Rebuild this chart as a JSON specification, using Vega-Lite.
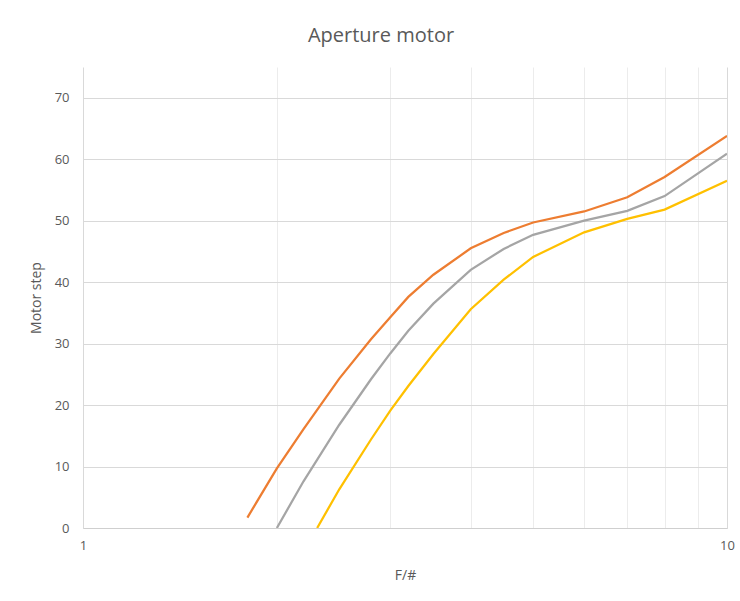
{
  "$schema": "https://vega.github.io/schema/vega-lite/v6.json",
  "width": 644,
  "height": 461,
  "autosize": {"type": "none"},
  "padding": {"left": 83, "top": 67, "right": 13, "bottom": 73},
  "background": "#ffffff",
  "title": {
    "text": "Aperture motor",
    "fontSize": 20,
    "font": "Open Sans",
    "fontWeight": "normal",
    "color": "#595959",
    "anchor": "middle",
    "dx": -24,
    "offset": 21
  },
  "config": {
    "view": {"stroke": null},
    "axis": {
      "labelFont": "Open Sans",
      "titleFont": "Open Sans",
      "labelColor": "#595959",
      "titleColor": "#595959",
      "labelFontSize": 13,
      "titleFontSize": 14,
      "titleFontWeight": "normal",
      "ticks": false
    }
  },
  "data": {
    "values": [
      {"s": "A", "f": 1.8, "step": 1.7},
      {"s": "A", "f": 2.0, "step": 9.7},
      {"s": "A", "f": 2.2, "step": 16.1},
      {"s": "A", "f": 2.5, "step": 24.3},
      {"s": "A", "f": 2.8, "step": 30.7},
      {"s": "A", "f": 3.0, "step": 34.3},
      {"s": "A", "f": 3.2, "step": 37.6},
      {"s": "A", "f": 3.5, "step": 41.2},
      {"s": "A", "f": 4.0, "step": 45.5},
      {"s": "A", "f": 4.5, "step": 48.0},
      {"s": "A", "f": 5.0, "step": 49.7},
      {"s": "A", "f": 6.0, "step": 51.5},
      {"s": "A", "f": 7.0, "step": 53.8},
      {"s": "A", "f": 8.0, "step": 57.1},
      {"s": "A", "f": 10.0, "step": 63.8},
      {"s": "B", "f": 2.0, "step": 0},
      {"s": "B", "f": 2.2, "step": 7.6},
      {"s": "B", "f": 2.5, "step": 16.8},
      {"s": "B", "f": 2.8, "step": 24.2},
      {"s": "B", "f": 3.0, "step": 28.4},
      {"s": "B", "f": 3.2, "step": 32.1},
      {"s": "B", "f": 3.5, "step": 36.5},
      {"s": "B", "f": 4.0, "step": 42.0},
      {"s": "B", "f": 4.5, "step": 45.4},
      {"s": "B", "f": 5.0, "step": 47.7},
      {"s": "B", "f": 6.0, "step": 50.0},
      {"s": "B", "f": 7.0, "step": 51.6},
      {"s": "B", "f": 8.0, "step": 54.0},
      {"s": "B", "f": 10.0, "step": 60.9},
      {"s": "C", "f": 2.31, "step": 0},
      {"s": "C", "f": 2.5, "step": 6.3},
      {"s": "C", "f": 2.8, "step": 14.4},
      {"s": "C", "f": 3.0, "step": 19.1},
      {"s": "C", "f": 3.2, "step": 23.1},
      {"s": "C", "f": 3.5, "step": 28.3},
      {"s": "C", "f": 4.0, "step": 35.6},
      {"s": "C", "f": 4.5, "step": 40.4},
      {"s": "C", "f": 5.0, "step": 44.1},
      {"s": "C", "f": 6.0, "step": 48.1},
      {"s": "C", "f": 7.0, "step": 50.3},
      {"s": "C", "f": 8.0, "step": 51.8},
      {"s": "C", "f": 10.0, "step": 56.5}
    ]
  },
  "mark": {"type": "line", "strokeWidth": 2.25, "clip": true},
  "encoding": {
    "x": {
      "field": "f",
      "type": "quantitative",
      "scale": {"type": "log", "domain": [1, 10], "nice": false},
      "axis": {
        "title": "F/#",
        "values": [1, 2, 3, 4, 5, 6, 7, 8, 9, 10],
        "labelExpr": "datum.value == 1 || datum.value == 10 ? datum.label : ''",
        "labelFlush": false,
        "labelPadding": 11,
        "titlePadding": 16,
        "domainColor": "#cfcfcf",
        "gridColor": {"condition": {"test": "datum.value == 1 || datum.value == 10", "value": "#d9d9d9"}, "value": "#ececec"}
      }
    },
    "y": {
      "field": "step",
      "type": "quantitative",
      "scale": {"domain": [0, 75], "nice": false},
      "axis": {
        "title": "Motor step",
        "values": [0, 10, 20, 30, 40, 50, 60, 70],
        "domain": false,
        "labelPadding": 14,
        "titlePadding": 11,
        "gridColor": "#d9d9d9"
      }
    },
    "color": {
      "field": "s",
      "type": "nominal",
      "scale": {"domain": ["A", "B", "C"], "range": ["#ED7D31", "#A5A5A5", "#FFC000"]},
      "legend": null
    },
    "order": {"field": "f", "type": "quantitative"}
  }
}
